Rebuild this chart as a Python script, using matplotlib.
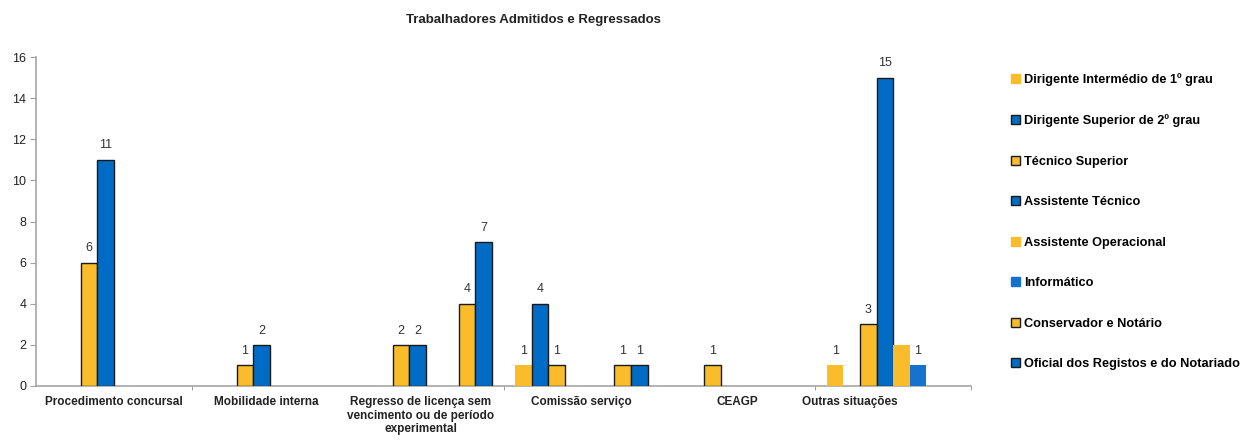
import matplotlib
matplotlib.use("Agg")
import matplotlib.pyplot as plt
import matplotlib.transforms as mtransforms
import numpy as np
from matplotlib.patches import Patch

plt.rcParams['font.family'] = ['Liberation Sans', 'DejaVu Sans']

title = "Trabalhadores Admitidos e Regressados"
categories = ["Procedimento concursal", "Mobilidade interna",
              "Regresso de licença sem\nvencimento ou de período\nexperimental",
              "Comissão serviço", "CEAGP", "Outras situações"]

series_names = ["Dirigente Intermédio de 1º grau", "Dirigente Superior de 2º grau",
                "Técnico Superior", "Assistente Técnico", "Assistente Operacional",
                "Informático", "Conservador e Notário", "Oficial dos Registos e do Notariado"]

dirigente_interm_1 = [0, 0, 0, 1, 0, 1]
dirigente_sup_2 = [0, 0, 0, 4, 0, 0]
tecnico_superior = [6, 1, 2, 1, 1, 3]
assistente_tecnico = [11, 2, 2, 0, 0, 15]
assistente_operacional = [0, 0, 0, 0, 0, 2]
informatico = [0, 0, 0, 0, 0, 1]
conservador_notario = [0, 0, 4, 1, 0, 0]
oficial_registos = [0, 0, 7, 1, 0, 0]

values = [dirigente_interm_1, dirigente_sup_2, tecnico_superior, assistente_tecnico,
          assistente_operacional, informatico, conservador_notario, oficial_registos]

YELLOW = "#FBBC2C"
BLUE = "#006CC6"
styles = [
    dict(color=YELLOW, edge="none", show=True),
    dict(color=BLUE, edge="#1a1a1a", show=True),
    dict(color=YELLOW, edge="#1a1a1a", show=True),
    dict(color=BLUE, edge="#1a1a1a", show=True),
    dict(color=YELLOW, edge="none", show=False),
    dict(color="#1672CC", edge="none", show=True),
    dict(color=YELLOW, edge="#1a1a1a", show=True),
    dict(color=BLUE, edge="#1a1a1a", show=True),
]

fig = plt.figure(figsize=(12.47, 4.41), dpi=100)
ax = fig.add_axes([36/1247, 1-386/441, (971-36)/1247, (386-57)/441])

n = len(series_names)
w = 16.5/155.5
x = np.arange(len(categories))
for k, (vals, st) in enumerate(zip(values, styles)):
    pos = x + (k - (n-1)/2) * w
    has_edge = st["edge"] != "none"
    lws = [1.0 if (has_edge and v > 0) else 0 for v in vals]
    bars = ax.bar(pos, vals, width=w, color=st["color"],
                  edgecolor=(st["edge"] if has_edge else st["color"]),
                  linewidth=lws, zorder=3)
    if st["show"]:
        for b, v in zip(bars, vals):
            if v > 0:
                ax.annotate(str(v), (b.get_x() + b.get_width()/2, v),
                            xytext=(0, 6), textcoords="offset points",
                            ha="center", va="bottom", fontsize=9, color="#333333")

ax.set_xlim(-0.5, len(categories) - 0.5)
ax.set_ylim(0, 16)
ax.set_yticks(range(0, 17, 2))
ax.tick_params(axis="y", direction="out", length=4, color="#a0a0a0", labelsize=9,
               labelcolor="#222222", pad=3)
ax.set_xticks(x)
ax.set_xticklabels(categories, fontsize=8.5, fontweight="bold", color="#222222")
ax.tick_params(axis="x", length=0, pad=7)
# small horizontal shifts of the category labels, as in the reference
label_shift_px = [0, -3, -5, 0, 0, -43]
for lbl, dx in zip(ax.get_xticklabels(), label_shift_px):
    lbl.set_transform(lbl.get_transform() +
                      mtransforms.ScaledTranslation(dx/100, 0, fig.dpi_scale_trans))
ax.set_xticks([0.5, 2.5, 4.5, 5.5], minor=True)
ax.tick_params(axis="x", which="minor", length=3, color="#909090", direction="out")
for s in ["top", "right"]:
    ax.spines[s].set_visible(False)
for s in ["left", "bottom"]:
    ax.spines[s].set_color("#a6a6a6")
    ax.spines[s].set_linewidth(1.2)

fig.text(533/1247, 1-20/441, title, ha="center", va="center", fontsize=9.5,
         fontweight="bold", color="#222222")

handles = [Patch(facecolor=st["color"], edgecolor=(st["edge"] if st["edge"] != "none" else st["color"]),
                 linewidth=1.0) for st in styles]
fig.legend(handles, series_names, loc="upper left",
           bbox_to_anchor=(1011/1247, 1-73/441), frameon=False, borderpad=0,
           borderaxespad=0, handlelength=0.7, handleheight=0.7, handletextpad=0.35,
           labelspacing=2.23, prop=dict(weight="bold", size=9.2))

fig.savefig("out.png", dpi=100)
